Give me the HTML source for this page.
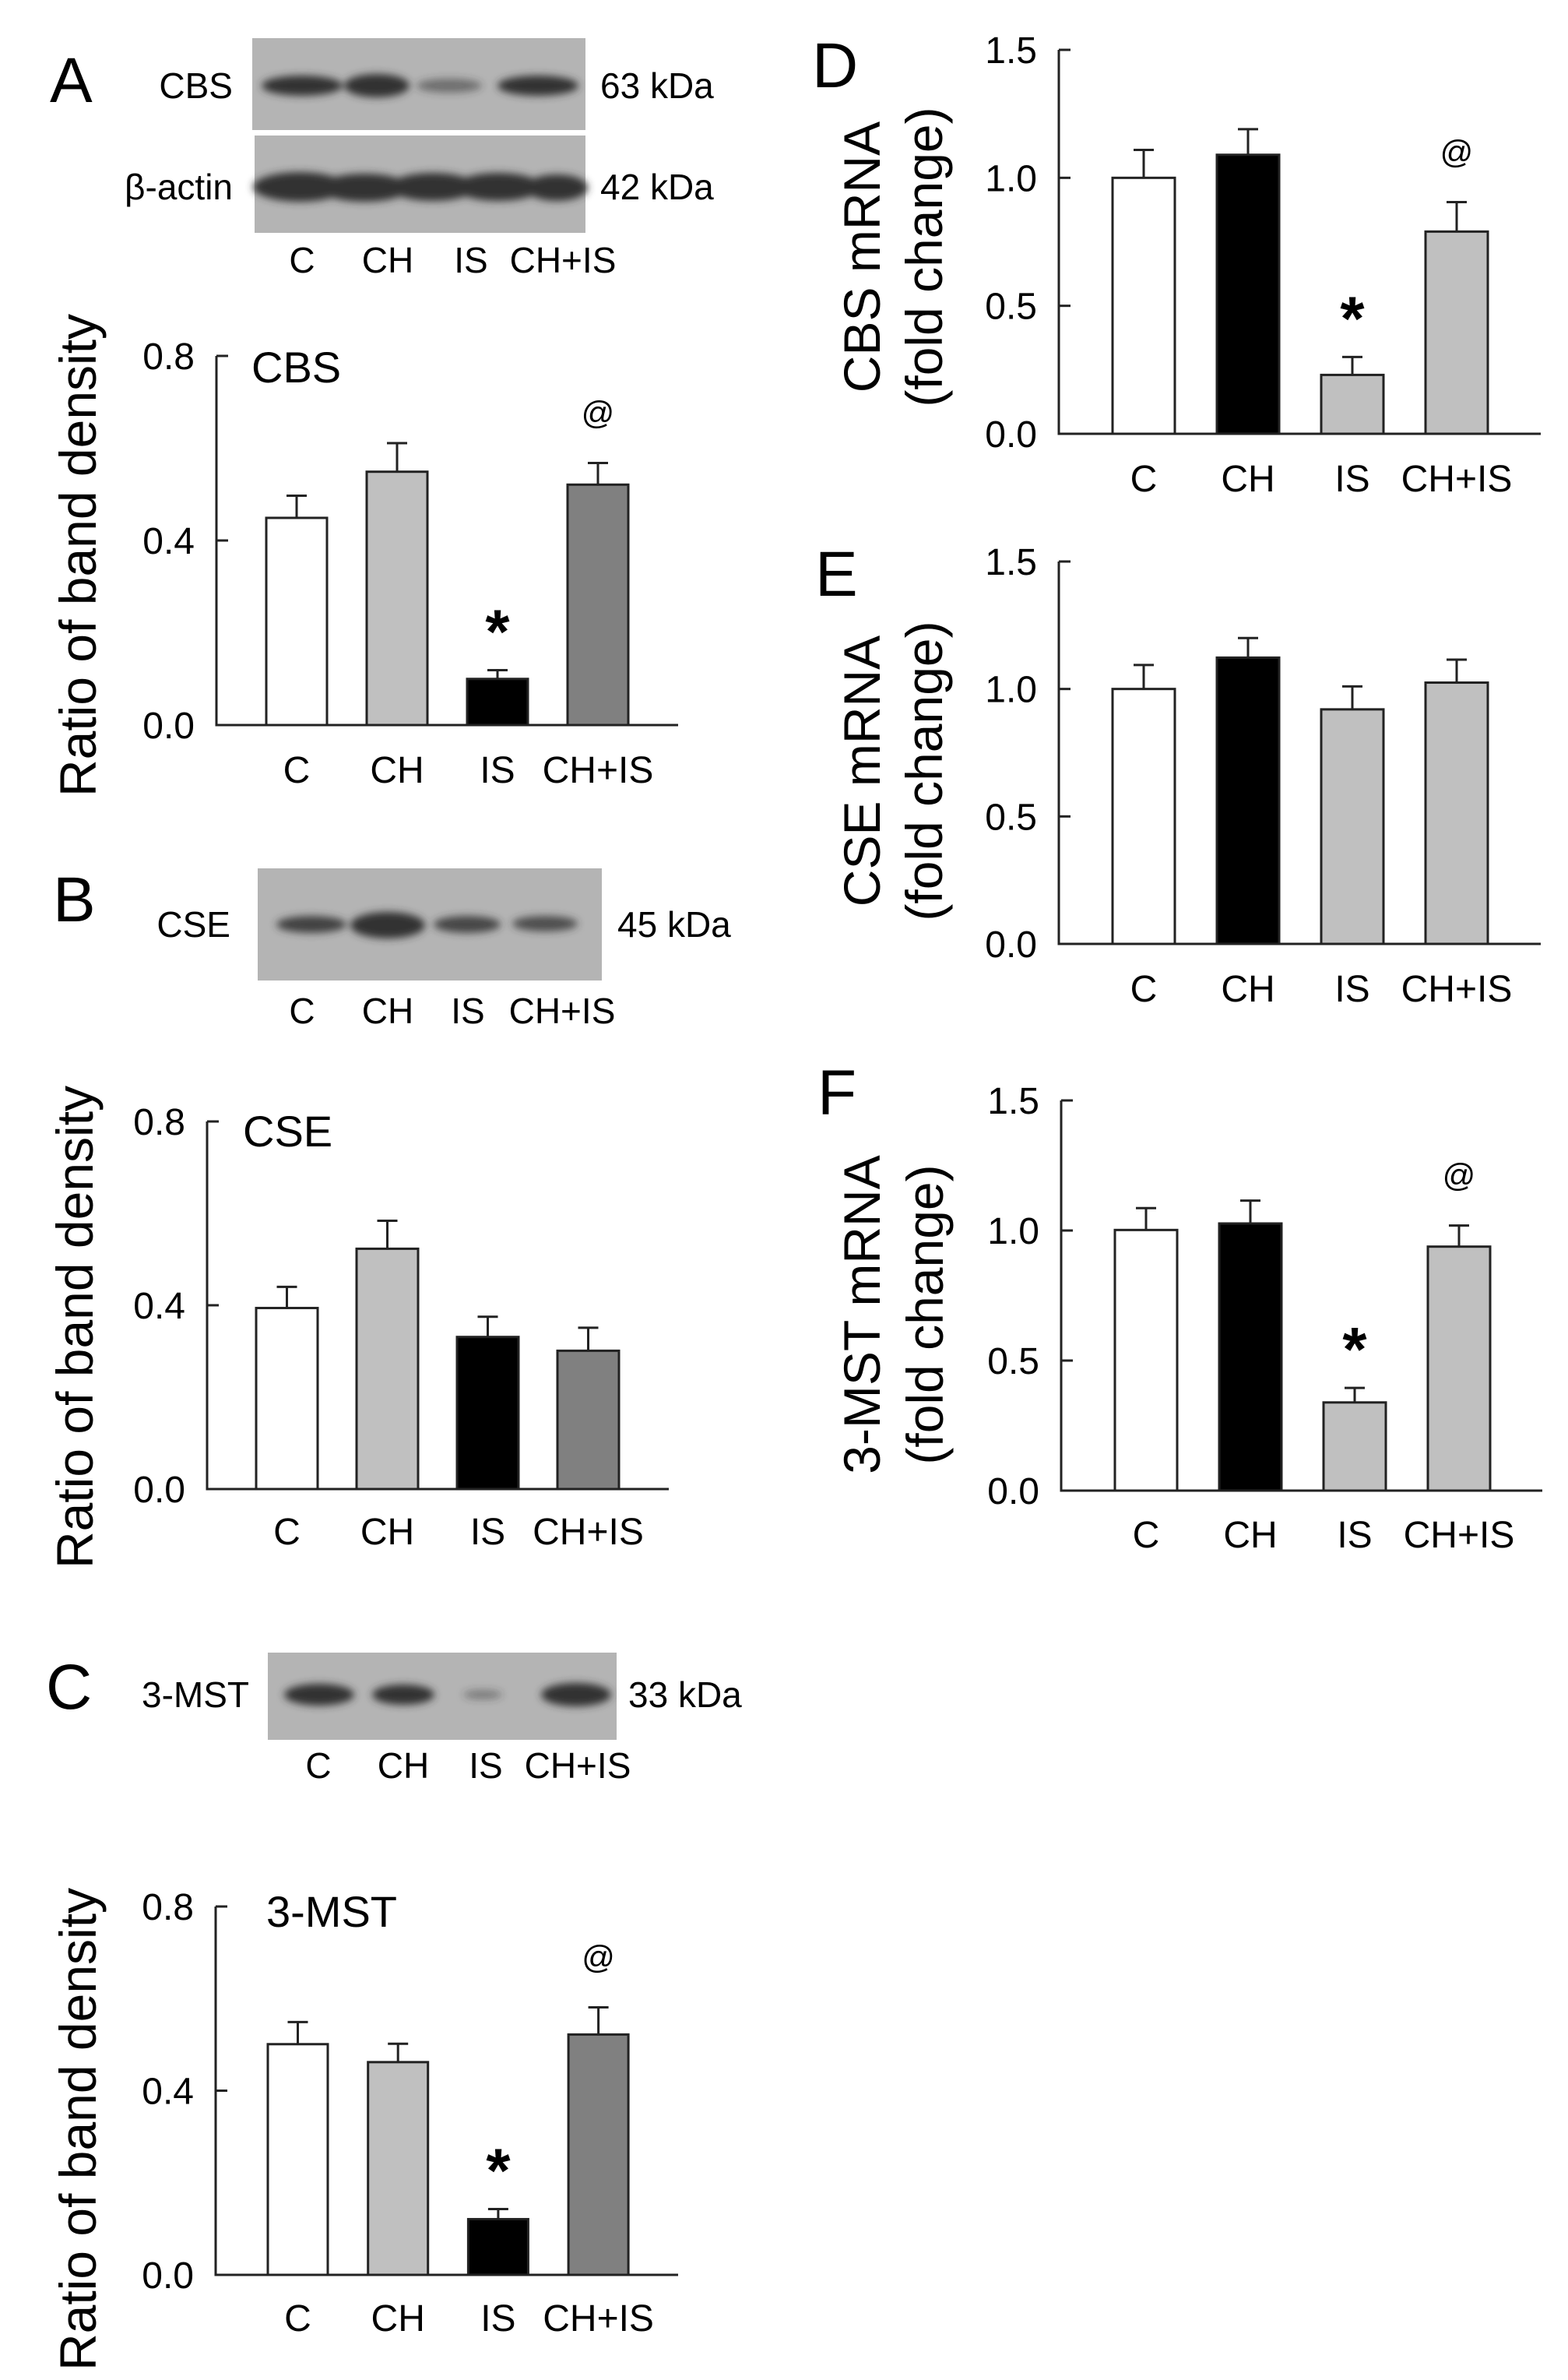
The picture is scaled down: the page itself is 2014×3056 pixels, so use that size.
<!DOCTYPE html>
<html><head><meta charset="utf-8"><style>
html,body{margin:0;padding:0;background:#fff;}
svg{display:block;font-family:"Liberation Sans",Arial,sans-serif;}
</style></head><body>
<svg id="fig" width="2014" height="3056" viewBox="0 0 2014 3056" xmlns="http://www.w3.org/2000/svg">
<defs><filter id="blur" x="-20%" y="-50%" width="140%" height="200%"><feGaussianBlur stdDeviation="5"/></filter></defs>
<g font-size="82" fill="#000">
<text x="64" y="131">A</text>
<text x="68" y="1183">B</text>
<text x="59" y="2194">C</text>
<text x="1043" y="112">D</text>
<text x="1047" y="765">E</text>
<text x="1050" y="1431">F</text>
</g>
<g id="blots"></g>
<g id="charts"></g>
</svg>
<script>
const categories = ["C","CH","IS","CH+IS"];
// Panel A - CBS protein
const valuesA = [0.449, 0.549, 0.100, 0.521];
const errorsA = [0.048, 0.062, 0.019, 0.047];
// Panel B - CSE protein
const valuesB = [0.394, 0.523, 0.331, 0.301];
const errorsB = [0.046, 0.061, 0.044, 0.050];
// Panel C - 3-MST protein
const valuesC = [0.501, 0.462, 0.121, 0.522];
const errorsC = [0.048, 0.040, 0.022, 0.059];
// Panel D - CBS mRNA
const valuesD = [1.00, 1.09, 0.23, 0.79];
const errorsD = [0.109, 0.10, 0.07, 0.115];
// Panel E - CSE mRNA
const valuesE = [1.00, 1.123, 0.92, 1.025];
const errorsE = [0.094, 0.077, 0.09, 0.09];
// Panel F - 3-MST mRNA
const valuesF = [1.002, 1.027, 0.339, 0.938];
const errorsF = [0.084, 0.088, 0.056, 0.081];
const ticksProtein = [0, 0.4, 0.8];
const tickLabelsProtein = ["0.0","0.4","0.8"];
const ticksMrna = [0, 0.5, 1.0, 1.5];
const tickLabelsMrna = ["0.0","0.5","1.0","1.5"];
const marksA = ["", "", "*", "@"];
const marksB = ["", "", "", ""];
const marksC = ["", "", "*", "@"];
const marksD = ["", "", "*", "@"];
const marksE = ["", "", "", ""];
const marksF = ["", "", "*", "@"];

const NS = "http://www.w3.org/2000/svg";
function mk(tag, attrs, parent){
  const e = document.createElementNS(NS, tag);
  for (const k in attrs) e.setAttribute(k, attrs[k]);
  if (parent) parent.appendChild(e);
  return e;
}

const charts = [
 {id:"a", vals:valuesA, errs:errorsA, marks:marksA, ticks:ticksProtein, tl:tickLabelsProtein, max:0.8,
  ax:278, axEnd:871, yTop:457, y0:931, barL:342, step:129, bw:78, fills:["#fff","#c0c0c0","#000","#808080"],
  title:"CBS", titleX:323, titleY:491, ylab:["Ratio of band density"], ylabX:[100], ylabY:713, xlabY:1005},
 {id:"b", vals:valuesB, errs:errorsB, marks:marksB, ticks:ticksProtein, tl:tickLabelsProtein, max:0.8,
  ax:266, axEnd:859, yTop:1440, y0:1912, barL:329, step:129, bw:79, fills:["#fff","#c0c0c0","#000","#808080"],
  title:"CSE", titleX:312, titleY:1472, ylab:["Ratio of band density"], ylabX:[96], ylabY:1704, xlabY:1983},
 {id:"c", vals:valuesC, errs:errorsC, marks:marksC, ticks:ticksProtein, tl:tickLabelsProtein, max:0.8,
  ax:277, axEnd:871, yTop:2448, y0:2921, barL:344, step:128.7, bw:77, fills:["#fff","#c0c0c0","#000","#808080"],
  title:"3-MST", titleX:342, titleY:2474, ylab:["Ratio of band density"], ylabX:[100], ylabY:2734, xlabY:2993},
 {id:"d", vals:valuesD, errs:errorsD, marks:marksD, ticks:ticksMrna, tl:tickLabelsMrna, max:1.5,
  ax:1360, axEnd:1979, yTop:64, y0:557, barL:1429, step:134, bw:80, fills:["#fff","#000","#c0c0c0","#c0c0c0"],
  title:"", ylab:["CBS mRNA","(fold change)"], ylabX:[1107,1187], ylabY:330, xlabY:631},
 {id:"e", vals:valuesE, errs:errorsE, marks:marksE, ticks:ticksMrna, tl:tickLabelsMrna, max:1.5,
  ax:1360, axEnd:1979, yTop:721, y0:1212, barL:1429, step:134, bw:80, fills:["#fff","#000","#c0c0c0","#c0c0c0"],
  title:"", ylab:["CSE mRNA","(fold change)"], ylabX:[1107,1187], ylabY:990, xlabY:1286},
 {id:"f", vals:valuesF, errs:errorsF, marks:marksF, ticks:ticksMrna, tl:tickLabelsMrna, max:1.5,
  ax:1363, axEnd:1981, yTop:1413, y0:1914, barL:1432, step:134, bw:80, fills:["#fff","#000","#c0c0c0","#c0c0c0"],
  title:"", ylab:["3-MST mRNA","(fold change)"], ylabX:[1107,1188], ylabY:1688, xlabY:1987}
];

const root = document.getElementById("charts");
charts.forEach(c => {
  const g = mk("g", {}, root);
  
  
  const yS = v => c.y0 - (v / c.max) * (c.y0 - c.yTop);
  c.vals.forEach((v, i) => {
    const x = c.barL + i * c.step;
    const r = mk("rect", {x:x, y:yS(v), width:c.bw, height:c.y0 - yS(v), fill:c.fills[i], stroke:"#222", "stroke-width":3}, g);
    
    
    const cx = x + c.bw / 2;
    const et = yS(v + c.errs[i]);
    const eb = mk("path", {d:`M${cx},${yS(v)}V${et}M${cx-13},${et}H${cx+13}`, stroke:"#222", "stroke-width":3, fill:"none"}, g);
    
    
    if (c.marks[i]) {
      const isStar = c.marks[i] === "*";
      const t = mk("text", {x:cx, y:isStar ? et - 22 : et - 50, "text-anchor":"middle", "font-size":isStar ? 80 : 42, "font-weight":isStar ? "bold" : "normal", fill:"#000"}, g);
      t.textContent = c.marks[i];
      
      
    }
    const xl = mk("text", {x:cx, y:c.xlabY, "text-anchor":"middle", "font-size":48, fill:"#000"}, g);
    xl.textContent = categories[i];
    
    
  });
  const axes = mk("path", {d:`M${c.ax},${c.yTop}V${c.y0}H${c.axEnd}`, stroke:"#222", "stroke-width":3, fill:"none"}, g);
  
  
  c.ticks.forEach((t, i) => {
    const y = yS(t);
    const tk = mk("path", {d:`M${c.ax},${y}H${c.ax+15}`, stroke:"#222", "stroke-width":3}, g);
    
    
    const tl = mk("text", {x:c.ax - 28, y:y + 17, "text-anchor":"end", "font-size":48, fill:"#000"}, g);
    tl.textContent = c.tl[i];
    
    
  });
  if (c.title) {
    const tt = mk("text", {x:c.titleX, y:c.titleY, "font-size":56, fill:"#000"}, g);
    tt.textContent = c.title;
    
    
  }
  c.ylab.forEach((s, k) => {
    const yl = mk("text", {x:0, y:0, "text-anchor":"middle", "font-size":66, fill:"#000",
      transform:`translate(${c.ylabX[k] + 23},${c.ylabY}) rotate(-90)`}, g);
    yl.textContent = s;
    
    
  });
});

const blotRoot = document.getElementById("blots");
const blots = [
 {name:"blot-cbs", x:324, y:49, w:428, h:118, label:"CBS", labelX:299, kda:"63 kDa", kdaX:771,
  bands:[[388,110,52,13,1],[484,110,42,15,1],[577,110,42,9,0.55],[691,110,52,13,1]]},
 {name:"blot-beta-actin", x:327, y:174, w:425, h:125, label:"β-actin", labelX:299, kda:"42 kDa", kdaX:771,
  bands:[[385,240,60,19,1],[468,241,58,18,1],[556,240,56,18,1],[640,240,56,18,1],[715,241,40,17,1]]},
 {name:"blot-cse", x:331, y:1115, w:442, h:144, label:"CSE", labelX:296, kda:"45 kDa", kdaX:793,
  bands:[[400,1187,45,11,0.9],[498,1188,48,17,1],[600,1187,43,11,0.85],[700,1186,42,10,0.8]]},
 {name:"blot-3-mst", x:344, y:2122, w:448, h:112, label:"3-MST", labelX:320, kda:"33 kDa", kdaX:807,
  bands:[[410,2176,45,14,1],[518,2176,40,13,1],[620,2176,25,6,0.45],[740,2176,45,15,1]]}
];
blots.forEach(b => {
  const g = mk("g", {}, blotRoot);
  
  
  mk("rect", {x:b.x, y:b.y, width:b.w, height:b.h, fill:"#b4b4b4"}, g);
  const bg = mk("g", {filter:"url(#blur)"}, g);
  b.bands.forEach(d => mk("ellipse", {cx:d[0], cy:d[1], rx:d[2], ry:d[3], fill:"#333", opacity:d[4]}, bg));
  const lab = mk("text", {x:b.labelX, y:b.bands[0][1] + 16, "text-anchor":"end", "font-size":46, fill:"#000"}, g);
  lab.textContent = b.label;
  
  
  const kd = mk("text", {x:b.kdaX, y:b.bands[0][1] + 16, "font-size":46, fill:"#000"}, g);
  kd.textContent = b.kda;
  
  
});
const laneSets = [
 {y:350, xs:[388,498,605,723]},
 {y:1314, xs:[388,498,601,722]},
 {y:2283, xs:[409,518,624,742]}
];
laneSets.forEach(L => {
  L.xs.forEach((x, i) => {
    const t = mk("text", {x:x, y:L.y, "text-anchor":"middle", "font-size":46, fill:"#000"}, blotRoot);
    t.textContent = categories[i];
    
    
  });
});
</script>
</body></html>
